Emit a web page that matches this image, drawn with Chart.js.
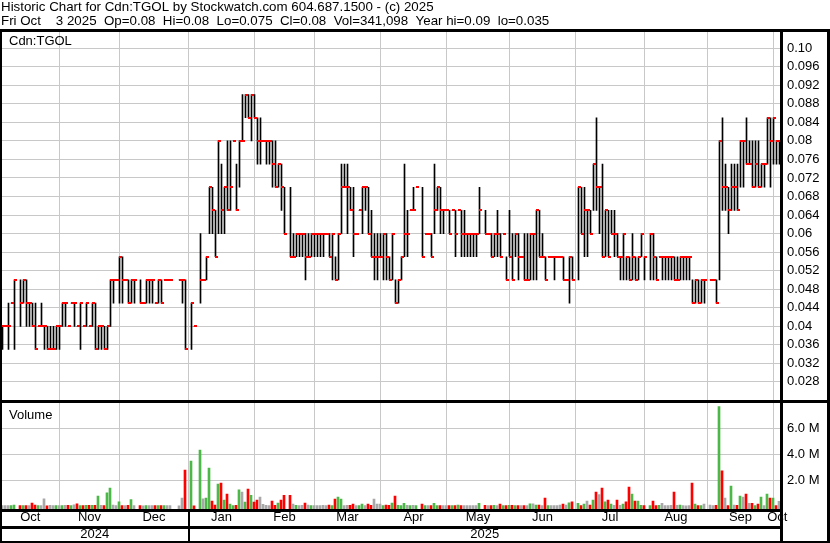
<!DOCTYPE html>
<html>
<head>
<meta charset="utf-8">
<script src="https://cdn.jsdelivr.net/npm/chart.js@4.4.1/dist/chart.umd.min.js"></script>
<style>
  html, body { margin: 0; padding: 0; background: #fff; }
  canvas { display: block; }
</style>
</head>
<body>
<canvas id="c" width="830" height="543"></canvas>
<script>
// ---------- DATA ----------
const startDate = '2024-10-07'; // first weekday slot on the chart
const titleLines = [
  'Historic Chart for Cdn:TGOL by Stockwatch.com 604.687.1500 - (c) 2025',
  'Fri Oct    3 2025  Op=0.08  Hi=0.08  Lo=0.075  Cl=0.08  Vol=341,098  Year hi=0.09  lo=0.035'
];
const symbolLabel = 'Cdn:TGOL';
const volumeLabel = 'Volume';

const high = [
0.04,0.04,0.045,0.045,0.05,null,0.05,0.05,0.05,0.045,
0.045,0.045,0.04,0.045,0.04,0.04,0.04,0.04,0.04,0.04,
0.045,0.045,0.04,0.045,0.045,0.04,0.045,0.04,0.045,0.04,
0.045,0.045,0.04,0.04,0.04,0.04,0.05,0.05,0.05,0.055,
0.055,0.05,0.05,0.05,0.05,null,0.05,0.045,0.05,0.05,
0.05,0.045,0.05,0.05,0.05,0.05,0.05,null,null,0.05,
0.05,0.05,null,0.045,0.04,null,0.06,0.05,0.055,0.07,
0.07,0.065,0.08,0.075,0.07,0.08,0.08,0.08,0.075,0.08,
0.09,0.09,0.09,0.09,0.09,0.085,0.085,0.08,0.08,0.08,
0.08,0.08,0.075,0.075,0.07,null,0.07,0.06,0.06,0.06,
0.06,0.06,0.06,0.06,0.06,0.06,0.06,0.06,0.06,0.06,
0.06,0.055,0.06,0.075,0.075,0.075,0.07,0.07,0.06,0.065,
0.07,0.07,0.07,0.065,0.06,0.06,0.06,0.06,0.06,0.055,
0.06,0.05,0.05,0.055,0.075,0.065,0.065,0.07,0.07,null,
0.07,0.06,0.06,0.06,0.075,0.07,0.07,0.065,0.065,0.065,
0.065,0.065,0.065,0.065,0.065,0.06,0.06,0.06,0.06,0.07,
null,0.065,0.06,0.06,0.06,0.065,0.06,0.06,0.055,0.065,
0.06,0.06,0.06,0.055,0.06,0.06,0.06,0.06,0.065,0.065,
0.06,0.055,0.055,0.055,0.055,0.055,0.055,0.055,0.05,0.055,
0.055,null,0.07,0.07,0.07,0.065,0.065,0.075,0.085,0.07,
0.075,0.065,0.065,0.065,0.065,0.06,0.055,0.06,0.055,0.055,
0.06,0.055,0.055,0.06,0.055,null,0.06,0.06,0.055,0.055,
0.055,0.055,0.055,0.055,0.055,0.055,0.055,0.055,0.055,0.055,
0.05,0.05,0.05,0.05,0.05,null,0.05,0.05,0.05,0.08,
0.085,0.075,0.07,0.075,0.075,0.075,0.08,0.08,0.085,0.08,
0.08,0.08,0.08,0.075,0.075,0.085,0.085,0.085,0.08,0.08
];
const low = [
0.035,0.04,0.035,0.045,0.035,null,0.04,0.045,0.04,0.04,
0.04,0.035,0.04,0.04,0.035,0.035,0.035,0.035,0.035,0.035,
0.04,0.04,0.04,0.045,0.04,0.04,0.035,0.04,0.04,0.04,
0.04,0.035,0.035,0.035,0.035,0.035,0.04,0.045,0.05,0.045,
0.045,0.05,0.045,0.045,0.045,null,0.045,0.045,0.045,0.045,
0.045,0.045,0.045,0.045,0.05,0.05,0.05,null,null,0.05,
0.045,0.035,null,0.035,0.04,null,0.045,0.05,0.05,0.06,
0.06,0.055,0.06,0.06,0.06,0.065,0.065,0.08,0.065,0.07,
0.08,0.085,0.085,0.08,0.085,0.075,0.075,0.08,0.075,0.075,
0.07,0.07,0.07,0.065,0.06,null,0.055,0.055,0.055,0.055,
0.055,0.05,0.055,0.055,0.055,0.055,0.055,0.055,0.06,0.055,
0.05,0.05,0.05,0.06,0.07,0.06,0.065,0.055,0.06,0.065,
0.06,0.065,0.06,0.055,0.05,0.05,0.055,0.05,0.05,0.05,
0.05,0.045,0.045,0.05,0.055,0.055,0.065,0.065,0.07,null,
0.055,0.06,0.06,0.055,0.06,0.065,0.06,0.06,0.065,0.06,
0.065,0.055,0.065,0.055,0.055,0.055,0.055,0.055,0.055,0.06,
null,0.06,0.06,0.055,0.055,0.055,0.055,0.06,0.05,0.055,
0.05,0.055,0.05,0.055,0.05,0.05,0.05,0.05,0.05,0.055,
0.055,0.05,0.055,0.055,0.05,0.055,0.055,0.05,0.05,0.045,
0.05,null,0.05,0.06,0.055,0.055,0.06,0.065,0.065,0.06,
0.055,0.055,0.055,0.06,0.055,0.055,0.05,0.05,0.05,0.05,
0.05,0.05,0.05,0.055,0.05,null,0.05,0.05,0.05,0.055,
0.05,0.05,0.05,0.05,0.05,0.05,0.05,0.05,0.05,0.05,
0.045,0.045,0.045,0.045,0.045,null,0.05,0.05,0.045,0.05,
0.065,0.065,0.06,0.065,0.065,0.065,0.07,0.07,0.075,0.075,
0.07,0.07,0.07,0.07,0.07,0.075,0.07,0.075,0.075,0.075
];
const close = [
0.04,0.04,0.04,0.045,0.05,null,0.045,0.05,0.045,0.045,
0.04,0.035,0.04,0.04,0.04,0.035,0.035,0.035,0.04,0.04,
0.045,0.045,0.04,0.045,0.045,0.04,0.045,0.04,0.045,0.04,
0.045,0.035,0.04,0.04,0.035,0.04,0.05,0.05,0.05,0.055,
0.05,0.05,0.045,0.05,0.05,null,0.045,0.045,0.05,0.05,
0.05,0.045,0.05,0.045,0.05,0.05,0.05,null,null,0.05,
0.05,0.035,null,0.045,0.04,null,0.05,0.05,0.055,0.07,
0.065,0.055,0.08,0.065,0.07,0.065,0.07,0.08,0.065,0.08,
0.08,0.09,0.085,0.09,0.085,0.08,0.08,0.08,0.08,0.08,
0.075,0.07,0.075,0.07,0.06,null,0.055,0.055,0.06,0.06,
0.06,0.055,0.055,0.06,0.06,0.06,0.06,0.06,0.06,0.055,
0.06,0.05,0.06,0.07,0.07,0.07,0.065,0.06,0.06,0.065,
0.07,0.07,0.06,0.055,0.055,0.055,0.055,0.06,0.055,0.05,
0.06,0.045,0.05,0.055,0.06,0.06,0.065,0.065,0.07,null,
0.055,0.06,0.06,0.055,0.065,0.07,0.065,0.065,0.065,0.06,
0.065,0.06,0.065,0.06,0.06,0.06,0.06,0.06,0.06,0.065,
null,0.06,0.06,0.055,0.06,0.06,0.055,0.06,0.05,0.055,
0.05,0.06,0.055,0.055,0.05,0.05,0.06,0.06,0.065,0.055,
0.055,0.05,0.055,0.055,0.055,0.055,0.055,0.05,0.05,0.055,
0.05,null,0.07,0.06,0.065,0.065,0.06,0.075,0.07,0.07,
0.055,0.065,0.055,0.06,0.06,0.055,0.055,0.06,0.055,0.05,
0.055,0.05,0.055,0.06,0.055,null,0.06,0.055,0.05,0.055,
0.055,0.055,0.055,0.055,0.05,0.05,0.055,0.055,0.055,0.055,
0.045,0.05,0.045,0.05,0.05,null,0.05,0.05,0.045,0.08,
0.07,0.07,0.065,0.07,0.07,0.065,0.08,0.08,0.075,0.075,
0.07,0.075,0.07,0.075,0.075,0.085,0.08,0.085,0.08,0.08
];
const volume = [
20000,20000,20000,20000,60000,null,15000,15000,20000,30000,
220000,60000,30000,30000,550000,10000,40000,30000,20000,25000,
30000,40000,40000,20000,80000,160000,15000,20000,35000,40000,
40000,40000,760000,40000,30000,1000000,1380000,60000,20000,320000,
25000,25000,40000,480000,20000,null,25000,10000,25000,20000,
25000,20000,25000,25000,15000,20000,20000,null,null,10000,
600000,2770000,null,3470000,10000,null,4320000,550000,600000,2930000,
370000,60000,1690000,1770000,450000,920000,140000,15000,40000,1230000,
1070000,300000,1300000,810000,300000,450000,680000,120000,40000,30000,
370000,40000,220000,450000,810000,null,810000,130000,40000,30000,
40000,220000,60000,20000,15000,20000,20000,40000,30000,60000,
20000,530000,680000,530000,20000,40000,40000,140000,30000,20000,
140000,20000,140000,40000,530000,140000,140000,20000,60000,40000,
220000,760000,40000,20000,190000,40000,20000,40000,20000,null,
140000,20000,20000,20000,190000,30000,20000,20000,20000,20000,
20000,20000,60000,20000,20000,20000,20000,20000,20000,190000,
null,40000,20000,20000,40000,30000,140000,20000,20000,40000,
40000,30000,20000,20000,30000,30000,150000,150000,60000,60000,
20000,600000,20000,20000,30000,30000,50000,140000,60000,240000,
320000,null,190000,30000,140000,370000,60000,450000,1070000,880000,
1380000,320000,450000,140000,40000,450000,40000,140000,320000,1460000,
920000,370000,370000,40000,30000,null,30000,370000,20000,40000,
190000,30000,30000,40000,1070000,40000,60000,20000,10000,20000,
1770000,140000,20000,20000,140000,null,60000,30000,40000,7680000,
2700000,600000,30000,1530000,60000,40000,760000,680000,920000,190000,
190000,30000,140000,680000,30000,920000,600000,600000,20000,341098
];

const priceTicks = [0.10,0.096,0.092,0.088,0.084,0.08,0.076,0.072,0.068,0.064,0.06,0.056,0.052,0.048,0.044,0.04,0.036,0.032,0.028];
const priceTickLabels = ['0.10','0.096','0.092','0.088','0.084','0.08','0.076','0.072','0.068','0.064','0.06','0.056','0.052','0.048','0.044','0.04','0.036','0.032','0.028'];
const volumeTicks = [2000000, 4000000, 6000000];
const volumeTickLabels = ['2.0 M', '4.0 M', '6.0 M'];
const monthLabels = ['Oct','Nov','Dec','Jan','Feb','Mar','Apr','May','Jun','Jul','Aug','Sep','Oct'];
const yearLabels = ['2024','2025'];

// ---------- DERIVED ----------
const N = close.length;
const dates = [];
{
  const d = new Date(startDate + 'T12:00:00Z');
  while (dates.length < N) {
    const wd = d.getUTCDay();
    if (wd !== 0 && wd !== 6) dates.push(new Date(d.getTime()));
    d.setUTCDate(d.getUTCDate() + 1);
  }
}
const monthBounds = [];
let yearBound = 0;
for (let i = 1; i < N; i++) {
  if (dates[i].getUTCMonth() !== dates[i - 1].getUTCMonth()) {
    const b = dates[i].getUTCDate() === 1 ? i : i - 1;
    monthBounds.push(b);
    if (dates[i].getUTCFullYear() !== dates[i - 1].getUTCFullYear()) yearBound = b;
  }
}
const xMin = -0.5, xMax = N - 0.5;
const edges = [xMin, ...monthBounds, xMax];
const monthCenters = edges.slice(0, -1).map((e, k) => (e + edges[k + 1]) / 2);
const yearCenters = [(xMin + yearBound) / 2, (yearBound + xMax) / 2];

const pMax = 0.103495, pMin = 0.023776;
const vMax = 8073500, vMin = -243700;

const rangeData = [], closeData = [], volData = [], volColors = [];
let prev = null;
for (let i = 0; i < N; i++) {
  if (close[i] == null) continue;
  rangeData.push({ x: i, y: [low[i], high[i]] });
  closeData.push({ x: i, y: close[i] });
  volData.push({ x: i, y: volume[i] });
  let col = '#a8a8a8';
  if (prev != null && close[i] > prev) col = '#4cb848';
  else if (prev != null && close[i] < prev) col = '#ff0000';
  volColors.push(col);
  prev = close[i];
}

// close tick marker: red tick to the right of the high-low line
const tick = document.createElement('canvas');
tick.width = 5; tick.height = 2;
{ const t = tick.getContext('2d'); t.fillStyle = '#ff0000'; t.fillRect(2, 0, 3, 2); }

const GRID = '#c8c8c8';
Chart.defaults.font.family = '"Liberation Sans", Arial, Helvetica, sans-serif';
Chart.defaults.font.size = 13;
Chart.defaults.color = '#000';

const frame = {
  id: 'frame',
  afterDraw(chart) {
    const { ctx, chartArea: a, scales: s } = chart;
    const W = chart.width, H = chart.height;
    ctx.save();
    ctx.fillStyle = '#000';
    const top = a.top - 3;
    ctx.fillRect(0, top, W, 3);                       // top rule
    ctx.fillRect(0, top, 2, H - top);                  // left
    ctx.fillRect(a.right - 1, top, 3, H - top);        // right of plot
    ctx.fillRect(W - 3, top, 3, H - top);              // outer right
    ctx.fillRect(0, s.y.bottom - 1.5, W, 3);           // price / volume
    ctx.fillRect(0, a.bottom, a.right + 2, 3);         // below volume
    ctx.fillRect(0, s.x3.top, a.right + 2, 3);         // months / years
    ctx.fillRect(0, H - 2, W, 2);                      // bottom
    const xj = s.x.getPixelForValue(yearBound);
    ctx.fillRect(xj - 0.5, a.bottom, 2, H - a.bottom); // year split
    ctx.font = '13px "Liberation Sans", Arial, sans-serif';
    ctx.textBaseline = 'alphabetic';
    ctx.textAlign = 'left';
    ctx.fillText(symbolLabel, a.left + 8, s.y.top + 13);
    ctx.fillText(volumeLabel, a.left + 8, s.yv.top + 17);
    ctx.restore();
  }
};

new Chart(document.getElementById('c'), {
  type: 'bar',
  data: {
    datasets: [
      { type: 'scatter', data: closeData, xAxisID: 'x', yAxisID: 'y', pointStyle: tick, pointRadius: 2, order: 0 },
      { type: 'bar', data: rangeData, xAxisID: 'x', yAxisID: 'y', backgroundColor: '#000', barThickness: 1, grouped: false, borderWidth: 0, order: 1 },
      { type: 'bar', data: volData, xAxisID: 'xv', yAxisID: 'yv', backgroundColor: volColors, barThickness: 2, grouped: false, borderWidth: 0, base: vMin, order: 2 }
    ]
  },
  options: {
    responsive: false,
    animation: false,
    events: [],
    layout: { padding: { left: 1, right: 0, top: 0, bottom: 0 }, autoPadding: false },
    plugins: {
      legend: { display: false },
      tooltip: { enabled: false },
      title: {
        display: true, text: titleLines, align: 'start', color: '#000',
        font: { size: 13.333, weight: 'normal', lineHeight: '13.5px' },
        padding: { top: 1, bottom: 4 }
      }
    },
    scales: {
      x: {
        type: 'linear', position: 'bottom', weight: 0, min: xMin, max: xMax, bounds: 'data', offset: false,
        grid: { offset: false, color: GRID, lineWidth: 1, drawTicks: false },
        border: { display: false },
        ticks: { display: false },
        afterBuildTicks: sc => { sc.ticks = monthBounds.map(v => ({ value: v })); },
        afterFit: sc => { sc.height = 0; }
      },
      xv: {
        type: 'linear', display: false, min: xMin + 1 / 6, max: xMax + 1 / 6, bounds: 'data', offset: false,
        grid: { offset: false }
      },
      x2: {
        type: 'linear', position: 'bottom', weight: 1, min: xMin, max: xMax, bounds: 'data', offset: false,
        grid: { display: false, offset: false, drawTicks: false },
        border: { display: false },
        ticks: { autoSkip: false, maxRotation: 0, padding: 1, font: { size: 13 }, color: '#000',
                 callback: (v, i) => monthLabels[i] },
        afterBuildTicks: sc => { sc.ticks = monthCenters.map(v => ({ value: v })); },
        afterFit: sc => { sc.height = 17; }
      },
      x3: {
        type: 'linear', position: 'bottom', weight: 2, min: xMin, max: xMax, bounds: 'data', offset: false,
        grid: { display: false, offset: false, drawTicks: false },
        border: { display: false },
        ticks: { autoSkip: false, maxRotation: 0, padding: 1, font: { size: 13 }, color: '#000',
                 callback: (v, i) => yearLabels[i] },
        afterBuildTicks: sc => { sc.ticks = yearCenters.map(v => ({ value: v })); },
        afterFit: sc => { sc.height = 17; }
      },
      y: {
        type: 'linear', position: 'right', stack: 'panels', stackWeight: 369.5, weight: 0,
        min: pMin, max: pMax, beginAtZero: false,
        grid: { color: GRID, lineWidth: 1, drawTicks: false },
        border: { display: false },
        ticks: { autoSkip: false, padding: 6, font: { size: 13 }, color: '#000',
                 callback: (v, i) => priceTickLabels[i] },
        afterBuildTicks: sc => { sc.ticks = priceTicks.map(v => ({ value: v })); },
        afterFit: sc => { sc.width = 49; }
      },
      yv: {
        type: 'linear', position: 'right', stack: 'panels', stackWeight: 107.5, weight: 1,
        min: vMin, max: vMax, beginAtZero: false,
        grid: { color: GRID, lineWidth: 1, drawTicks: false },
        border: { display: false },
        ticks: { autoSkip: false, padding: 6, font: { size: 13 }, color: '#000',
                 callback: (v, i) => volumeTickLabels[i] },
        afterBuildTicks: sc => { sc.ticks = volumeTicks.map(v => ({ value: v })); },
        afterFit: sc => { sc.width = 49; }
      }
    }
  },
  plugins: [frame]
});
</script>
</body>
</html>
